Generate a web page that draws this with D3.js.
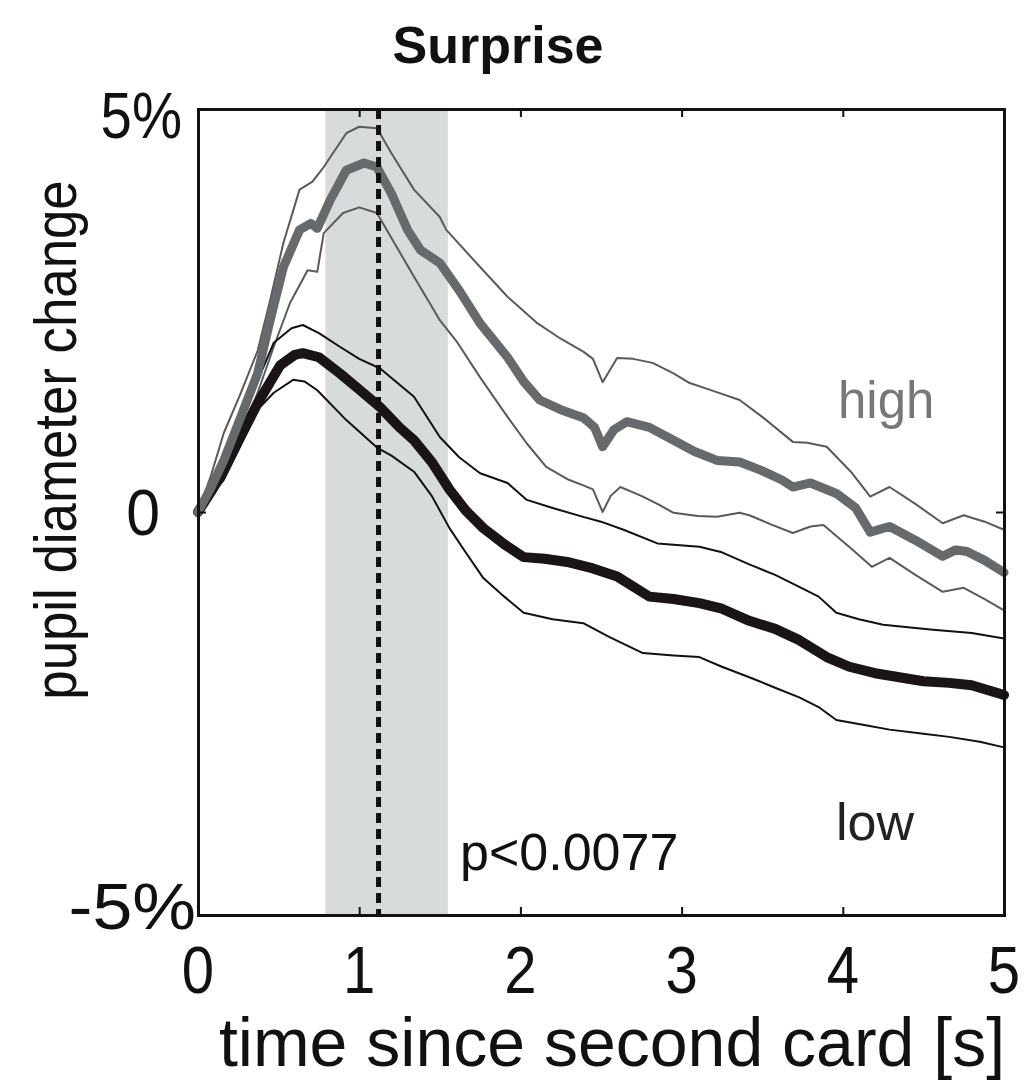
<!DOCTYPE html>
<html><head><meta charset="utf-8">
<script src="https://cdn.jsdelivr.net/npm/d3@7"></script>
<style>body{margin:0;background:#fff}svg{display:block}text{font-family:"Liberation Sans",Arial,sans-serif}</style>
</head><body><svg id="c" width="1033" height="1082"></svg>
<script>
// ---- data (time in s, value in % pupil diameter change) ----
const highMeanT = [0,0.08,0.16,0.25,0.37,0.45,0.53,0.63,0.70,0.74,0.82,0.92,1.03,1.11,1.20,1.30,1.38,1.50,1.62,1.75,1.92,2.02,2.12,2.25,2.39,2.46,2.51,2.58,2.66,2.80,2.95,3.08,3.22,3.36,3.49,3.62,3.69,3.80,3.96,4.08,4.17,4.29,4.45,4.62,4.70,4.77,4.88,5.0];
const highMeanV = [0,0.30,0.64,1.10,1.72,2.40,3.04,3.50,3.58,3.52,3.87,4.24,4.33,4.28,3.95,3.50,3.25,3.09,2.75,2.34,1.92,1.62,1.39,1.27,1.17,1.05,0.81,1.02,1.12,1.05,0.89,0.75,0.64,0.62,0.52,0.40,0.31,0.36,0.23,0.05,-0.25,-0.18,-0.35,-0.55,-0.47,-0.49,-0.60,-0.75];
const highUpT = [0,0.08,0.16,0.26,0.37,0.45,0.53,0.63,0.71,0.78,0.92,1.00,1.11,1.20,1.34,1.50,1.54,1.75,1.92,2.10,2.25,2.39,2.45,2.51,2.60,2.70,2.82,2.95,3.05,3.20,3.36,3.50,3.69,3.78,3.90,4.05,4.17,4.29,4.45,4.62,4.75,4.88,5.0];
const highUpV = [0,0.45,0.98,1.45,2.00,2.65,3.34,4.00,4.10,4.28,4.70,4.78,4.76,4.45,4.00,3.66,3.50,3.04,2.67,2.35,2.15,1.99,1.90,1.61,1.91,1.90,1.85,1.72,1.60,1.50,1.39,1.18,0.87,0.86,0.81,0.50,0.19,0.31,0.10,-0.14,-0.04,-0.12,-0.22];
const highLoT = [0,0.08,0.16,0.26,0.37,0.47,0.57,0.68,0.74,0.78,0.90,1.00,1.11,1.20,1.34,1.45,1.50,1.61,1.75,1.92,2.04,2.16,2.30,2.39,2.45,2.51,2.56,2.62,2.75,2.85,2.95,3.10,3.22,3.36,3.42,3.55,3.69,3.80,3.88,4.05,4.18,4.29,4.45,4.62,4.75,4.88,5.0];
const highLoV = [0,0.20,0.43,0.90,1.48,2.05,2.59,3.00,2.98,3.46,3.71,3.78,3.71,3.40,2.92,2.55,2.38,2.10,1.67,1.18,0.85,0.56,0.40,0.33,0.28,0.00,0.20,0.31,0.20,0.10,-0.01,-0.05,-0.06,-0.01,-0.04,-0.15,-0.26,-0.18,-0.16,-0.45,-0.68,-0.57,-0.78,-0.99,-0.94,-1.08,-1.22];
const lowMeanT = [0,0.08,0.16,0.25,0.37,0.51,0.60,0.65,0.75,0.88,1.00,1.13,1.25,1.34,1.45,1.56,1.66,1.77,1.90,2.02,2.15,2.29,2.45,2.60,2.80,2.95,3.11,3.25,3.42,3.58,3.73,3.90,4.04,4.20,4.35,4.50,4.66,4.80,5.0];
const lowMeanV = [0,0.25,0.52,0.88,1.35,1.82,1.95,1.97,1.92,1.72,1.52,1.30,1.05,0.89,0.62,0.28,0.02,-0.20,-0.40,-0.56,-0.58,-0.62,-0.70,-0.80,-1.05,-1.08,-1.13,-1.20,-1.35,-1.45,-1.59,-1.80,-1.92,-2.00,-2.05,-2.10,-2.12,-2.15,-2.27];
const lowUpT = [0,0.16,0.30,0.47,0.58,0.65,0.75,0.88,1.00,1.13,1.34,1.50,1.62,1.75,1.92,2.04,2.20,2.39,2.50,2.64,2.85,3.11,3.25,3.42,3.58,3.73,3.85,3.96,4.10,4.25,4.56,4.80,5.0];
const lowUpV = [0,0.60,1.30,2.10,2.28,2.32,2.22,2.05,1.90,1.78,1.43,0.93,0.68,0.48,0.36,0.15,0.05,-0.06,-0.12,-0.22,-0.39,-0.43,-0.50,-0.65,-0.78,-0.93,-1.05,-1.25,-1.33,-1.40,-1.46,-1.50,-1.57];
const lowLoT = [0,0.16,0.27,0.37,0.47,0.59,0.66,0.74,0.92,1.11,1.20,1.34,1.45,1.56,1.66,1.77,1.90,2.02,2.20,2.39,2.55,2.76,2.95,3.11,3.25,3.42,3.58,3.73,3.85,3.96,4.15,4.29,4.50,4.66,4.85,5.0];
const lowLoV = [0,0.40,0.85,1.27,1.48,1.64,1.62,1.51,1.14,0.80,0.70,0.50,0.20,-0.20,-0.50,-0.82,-1.05,-1.25,-1.33,-1.38,-1.55,-1.75,-1.78,-1.80,-1.92,-2.05,-2.18,-2.30,-2.42,-2.58,-2.65,-2.70,-2.75,-2.79,-2.85,-2.92];
const xTicks = [0,1,2,3,4,5];
const xTickLabels = ["0","1","2","3","4","5"];
const yTicks = [5,0,-5];
const yTickLabels = ["5%","0","-5%"];
const shadeRange = [0.79,1.55];
const peakTime = 1.12;
const title = "Surprise";
const xTitle = "time since second card [s]";
const yTitle = "pupil diameter change";
const pText = "p<0.0077";
const seriesLabels = ["high","low"];

// ---- layout ----
const L=198,R=1004,T=109,B=915;
const svg=d3.select("#c");
const x=d3.scaleLinear().domain([0,5]).range([L,R]);
const y=d3.scaleLinear().domain([-5,5]).range([B,T]);
const zip=(t,v)=>t.map((d,i)=>[d,v[i]]);
const line=d3.line().x(d=>x(d[0])).y(d=>y(d[1]));

svg.append("rect").attr("x",x(shadeRange[0])).attr("y",T).attr("width",x(shadeRange[1])-x(shadeRange[0])).attr("height",B-T).attr("fill","#d8dbdb");

const thin=[[highUpT,highUpV,"#5a5a5a"],[highLoT,highLoV,"#5a5a5a"],[lowUpT,lowUpV,"#111"],[lowLoT,lowLoV,"#111"]];
thin.forEach(([t,v,c])=>svg.append("path").attr("d",line(zip(t,v))).attr("fill","none").attr("stroke",c).attr("stroke-width",2).attr("stroke-linejoin","round"));
svg.append("path").attr("d",line(zip(lowMeanT,lowMeanV))).attr("fill","none").attr("stroke","#1a1416").attr("stroke-width",10).attr("stroke-linejoin","round").attr("stroke-linecap","round");
svg.append("path").attr("d",line(zip(highMeanT,highMeanV))).attr("fill","none").attr("stroke","#666a6c").attr("stroke-width",9).attr("stroke-linejoin","round").attr("stroke-linecap","round");

svg.append("line").attr("x1",x(peakTime)).attr("x2",x(peakTime)).attr("y1",T).attr("y2",B).attr("stroke","#111").attr("stroke-width",5).attr("stroke-dasharray","10,6");

// axes (box style with inward ticks)
const ax=d3.axisBottom(x).tickValues(xTicks).tickSize(-8).tickFormat("");
const at=d3.axisTop(x).tickValues(xTicks).tickSize(-8).tickFormat("");
const al=d3.axisLeft(y).tickValues(yTicks).tickSize(-8).tickFormat("");
const ar=d3.axisRight(y).tickValues(yTicks).tickSize(-8).tickFormat("");
[[ax,`translate(0,${B})`],[at,`translate(0,${T})`],[al,`translate(${L},0)`],[ar,`translate(${R},0)`]].forEach(([a,tr])=>{
  const g=svg.append("g").attr("transform",tr).call(a);
  g.select(".domain").attr("stroke","#111").attr("stroke-width",3);
  g.selectAll(".tick line").attr("stroke","#111").attr("stroke-width",2);
});

function txt(px,py,s,size,anchor,opt={}){
  const sx=opt.sx||1,rot=opt.rot||0;
  return svg.append("text").attr("transform",`translate(${px},${py}) rotate(${rot}) scale(${sx},1)`)
    .attr("text-anchor",anchor).attr("font-size",size).attr("fill",opt.fill||"#111").attr("font-weight",opt.bold?"bold":"normal").text(s);
}
xTicks.forEach((t,i)=>txt(x(t),993,xTickLabels[i],66,"middle",{sx:0.88}));
const yPos={"5%":[182,{}],"0":[160,{sx:0.95}],"-5%":[196,{sx:1.12}]};
yTicks.forEach((v,i)=>{const p=yPos[yTickLabels[i]];const base=Math.min(Math.max(y(v)+23,138),929);txt(p[0],base,yTickLabels[i],64,"end",Object.assign({sx:0.88},p[1]));});
txt(498,63,title,52,"middle",{bold:true});
txt(612,1066,xTitle,68,"middle",{sx:1});
txt(76,440,yTitle,60,"middle",{rot:-90,sx:0.88});
txt(460,870,pText,52,"start");
txt(838,418,seriesLabels[0],51,"start",{fill:"#777"});
txt(836,840,seriesLabels[1],52,"start",{fill:"#222"});
</script></body></html>
